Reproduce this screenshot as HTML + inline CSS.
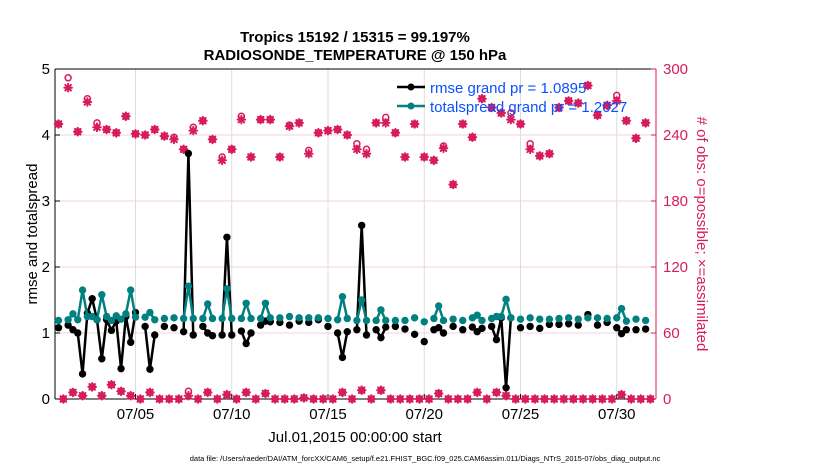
<!DOCTYPE html>
<html><head><meta charset="utf-8"><style>
html,body{margin:0;padding:0;background:#fff;}
svg{display:block;font-family:"Liberation Sans",Arial,sans-serif;}
</style></head><body>
<svg id="chart" width="830" height="470" viewBox="0 0 830 470">
<rect x="0" y="0" width="830" height="470" fill="#fff"/>
<text x="355" y="42" text-anchor="middle" font-size="15" font-weight="bold">Tropics 15192 / 15315 = 99.197%</text>
<text x="355" y="60" text-anchor="middle" font-size="15" font-weight="bold">RADIOSONDE_TEMPERATURE @ 150 hPa</text>
<g id="grid"></g>
<g id="axes"></g>
<g id="marks"></g>
<text transform="translate(37,234) rotate(-90)" text-anchor="middle" font-size="15">rmse and totalspread</text>
<text transform="translate(697,234) rotate(90)" text-anchor="middle" font-size="15" fill="#d81b5e"># of obs: o=possible; ×=assimilated</text>
<text x="355" y="442" text-anchor="middle" font-size="15">Jul.01,2015 00:00:00 start</text>
<text x="425" y="461" text-anchor="middle" font-size="7.5">data file: /Users/raeder/DAI/ATM_forcXX/CAM6_setup/f.e21.FHIST_BGC.f09_025.CAM6assim.011/Diags_NTrS_2015-07/obs_diag_output.nc</text>
<g>
<line x1="397" y1="87" x2="425" y2="87" stroke="#000" stroke-width="2.5"/>
<circle cx="411" cy="87" r="3.5" fill="#000"/>
<text x="430" y="93" font-size="15" fill="#0a50ff">rmse grand pr = 1.0895</text>
<line x1="397" y1="106" x2="425" y2="106" stroke="#008080" stroke-width="2.5"/>
<circle cx="411" cy="106" r="3.5" fill="#008080"/>
<text x="430" y="112" font-size="15" fill="#0a50ff">totalspread grand pr = 1.2027</text>
</g>
</svg>
<script>
const seriesIdx = [0,2,3,4,5,6,7,8,9,10,11,12,13,14,15,16,18,19,20,22,24,26,27,28,30,31,32,34,35,36,38,39,40,42,43,44,46,48,50,52,54,56,58,59,60,62,63,64,66,67,68,70,72,74,76,78,79,80,82,84,86,87,88,90,91,92,93,94,96,98,100,102,104,106,108,110,112,114,116,117,118,120,122];
const rmseVals = [1.08,1.12,1.05,1.0,0.38,1.3,1.52,1.2,0.61,1.2,1.04,1.18,0.46,1.25,0.86,1.31,1.1,0.45,0.97,1.1,1.08,1.02,3.72,0.97,1.1,1.0,0.96,0.97,2.45,0.97,1.03,0.84,1.0,1.12,1.18,1.17,1.16,1.12,1.18,1.16,1.2,1.1,1.0,0.63,1.02,1.05,2.63,0.97,1.05,0.93,1.09,1.1,1.06,0.98,0.87,1.05,1.08,1.0,1.1,1.05,1.09,1.02,1.07,1.1,0.9,1.23,0.17,1.23,1.08,1.1,1.07,1.13,1.13,1.14,1.12,1.28,1.12,1.16,1.08,0.99,1.05,1.05,1.06];
const spreadVals = [1.19,1.2,1.29,1.2,1.65,1.25,1.25,1.2,1.58,1.25,1.19,1.26,1.21,1.29,1.65,1.24,1.24,1.31,1.2,1.22,1.23,1.22,1.71,1.22,1.22,1.44,1.22,1.22,1.67,1.22,1.22,1.45,1.22,1.22,1.45,1.23,1.23,1.25,1.23,1.23,1.23,1.22,1.2,1.55,1.22,1.19,1.5,1.19,1.19,1.35,1.19,1.19,1.19,1.23,1.17,1.22,1.41,1.19,1.21,1.19,1.23,1.27,1.19,1.22,1.25,1.25,1.51,1.23,1.21,1.23,1.21,1.21,1.22,1.23,1.21,1.23,1.23,1.22,1.23,1.37,1.18,1.21,1.19];
const mainPossible = [250,292,243,273,251,245,242,257,241,240,245,239,238,227,247,253,236,220,227,257,220,254,254,220,249,251,226,242,244,245,240,232,227,251,256,242,220,250,220,217,230,195,250,238,273,265,260,260,250,232,221,223,265,271,269,285,258,267,276,253,237,251];
const mainAssim = [250,283,243,270,247,245,242,257,241,240,245,239,236,227,244,253,236,217,227,254,220,254,254,220,248,251,223,242,244,245,240,227,223,251,251,242,220,250,220,217,228,195,250,238,273,265,260,254,250,227,221,223,265,271,269,285,258,267,271,253,237,251];
const offPossible = [0,6,3,11,3,13,7,3,0,6,0,0,0,7,0,6,0,4,0,6,0,5,0,0,0,1,0,0,0,6,0,8,0,8,0,0,0,0,0,5,0,0,0,6,0,6,3,0,0,0,0,0,0,0,0,0,0,0,4,0,0,0];
const offAssim = [0,6,3,11,3,13,7,3,0,6,0,0,0,3,0,6,0,4,0,6,0,5,0,0,0,1,0,0,0,6,0,8,0,8,0,0,0,0,0,5,0,0,0,6,0,6,3,0,0,0,0,0,0,0,0,0,0,0,4,0,0,0];
const leftTicks = [0,1,2,3,4,5];
const rightTicks = [0,60,120,180,240,300];
const dateTicks = [4,9,14,19,24,29];
const dateLabels = ["07/05","07/10","07/15","07/20","07/25","07/30"];

const NS = "http://www.w3.org/2000/svg";
const PL = 55, PR = 656, PT = 69, PB = 399;
const RED = "#d81b5e", TEAL = "#008080";
function xK(k){ return 58.5 + k * 4.8125; }
function xDay(d){ return 58.5 + d * 19.25; }
function yL(v){ return PB - v * (PB - PT) / 5; }
function yR(c){ return PB - c * (PB - PT) / 300; }
function mk(tag, attrs, parent){
  const el = document.createElementNS(NS, tag);
  for (const a in attrs) el.setAttribute(a, attrs[a]);
  parent.appendChild(el);
  return el;
}
const grid = document.getElementById("grid");
const axes = document.getElementById("axes");
const marks = document.getElementById("marks");

leftTicks.slice(1, -1).forEach(v => {
  const l = mk("line", {x1: PL, x2: PR, y1: yL(v), y2: yL(v), stroke: "#f2d3de", "stroke-width": 1}, grid);
  
  
});
dateTicks.forEach(d => {
  const l = mk("line", {x1: xDay(d), x2: xDay(d), y1: PT, y2: PB, stroke: "#dcdcdc", "stroke-width": 1}, grid);
  
  
});

let e;
e = mk("line", {x1: PL, x2: PR, y1: PT, y2: PT, stroke: "#000", "stroke-width": 1}, axes);


e = mk("line", {x1: PL, x2: PR, y1: PB, y2: PB, stroke: "#000", "stroke-width": 1}, axes);


e = mk("line", {x1: PL, x2: PL, y1: PT, y2: PB, stroke: "#000", "stroke-width": 1}, axes);


e = mk("line", {x1: PR, x2: PR, y1: PT, y2: PB, stroke: RED, "stroke-width": 1}, axes);



leftTicks.forEach(v => {
  const t = mk("line", {x1: PL, x2: PL + 5, y1: yL(v), y2: yL(v), stroke: "#000"}, axes);
  
  
  const tx = mk("text", {x: PL - 5, y: yL(v) + 5, "text-anchor": "end", "font-size": 15}, axes);
  tx.textContent = String(v);
  
  
});
rightTicks.forEach(c => {
  const t = mk("line", {x1: PR - 5, x2: PR, y1: yR(c), y2: yR(c), stroke: RED}, axes);
  
  
  const tx = mk("text", {x: PR + 7, y: yR(c) + 5, "font-size": 15, fill: RED}, axes);
  tx.textContent = String(c);
  
  
});
dateTicks.forEach((d, i) => {
  const t = mk("line", {x1: xDay(d), x2: xDay(d), y1: PB - 5, y2: PB, stroke: "#000"}, axes);
  
  
  const tx = mk("text", {x: xDay(d), y: PB + 20, "text-anchor": "middle", "font-size": 15}, axes);
  tx.textContent = dateLabels[i];
  
  
});

function drawCircle(x, y){
  const c = mk("circle", {cx: x, cy: y, r: 3, fill: "none", stroke: RED, "stroke-width": 1.5}, marks);
  
  
}
function drawStar(x, y){
  const g = mk("g", {stroke: RED, "stroke-width": 2, "stroke-linecap": "round"}, marks);
  
  
  const r = 3.8, d = 2.8;
  mk("line", {x1: x - r, x2: x + r, y1: y, y2: y}, g);
  mk("line", {x1: x, x2: x, y1: y - r, y2: y + r}, g);
  mk("line", {x1: x - d, x2: x + d, y1: y - d, y2: y + d}, g);
  mk("line", {x1: x - d, x2: x + d, y1: y + d, y2: y - d}, g);
}
mainPossible.forEach((c, i) => { drawCircle(xK(2 * i), yR(c)); });
mainAssim.forEach((c, i) => { drawStar(xK(2 * i), yR(c)); });
offPossible.forEach((c, i) => { drawCircle(xK(2 * i + 1), yR(c)); });
offAssim.forEach((c, i) => { drawStar(xK(2 * i + 1), yR(c)); });

function drawSeries(vals, color, name){
  let d = "";
  seriesIdx.forEach((k, i) => {
    const cont = i > 0 && seriesIdx[i - 1] === k - 1;
    d += (cont ? "L" : "M") + xK(k).toFixed(2) + " " + yL(vals[i]).toFixed(2) + " ";
  });
  const p = mk("path", {d: d, fill: "none", stroke: color, "stroke-width": 2.5, "stroke-linejoin": "round"}, marks);
  
  
  seriesIdx.forEach((k, i) => {
    const c = mk("circle", {cx: xK(k), cy: yL(vals[i]), r: 3.7, fill: color}, marks);
    
    
  });
}
drawSeries(rmseVals, "#000", "rmse");
drawSeries(spreadVals, TEAL, "totalspread");
</script>
</body></html>
